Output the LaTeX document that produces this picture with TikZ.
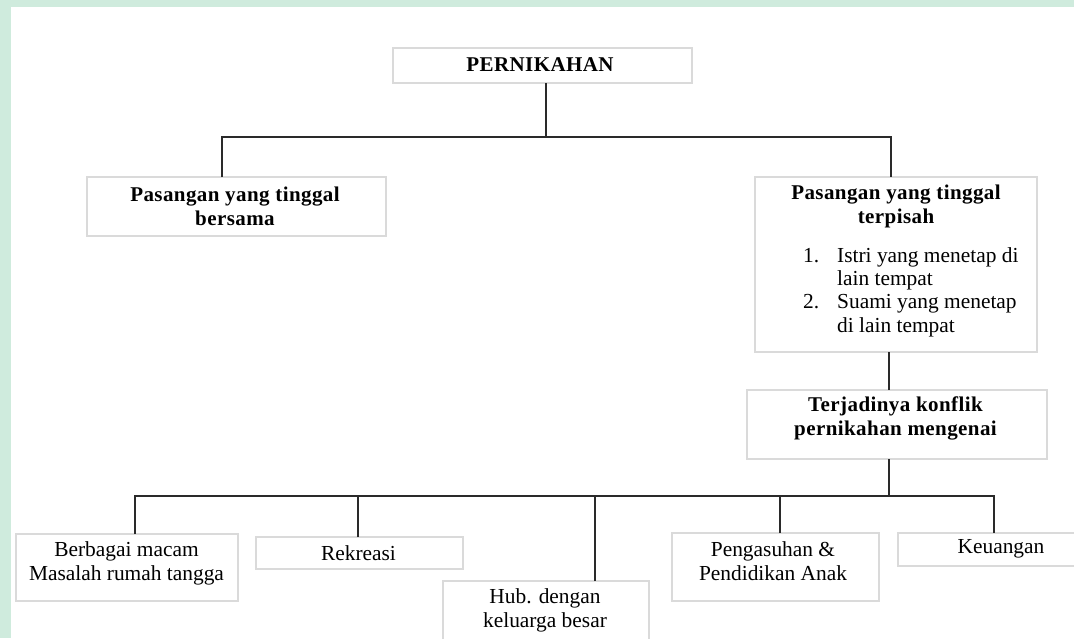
\documentclass[tikz,border=0pt]{standalone}
\usepackage{fontspec}
\setmainfont{Liberation Serif}[BoldFeatures={LetterSpace=2}]
\definecolor{boxgray}{HTML}{DADADA}
\definecolor{linegray}{HTML}{2A2A2A}
\definecolor{wmgreen}{HTML}{CFEBDD}
\begin{document}
\begin{tikzpicture}[x=1pt,y=-1pt,
  box/.style={draw=boxgray, line width=1.4pt, fill=white, inner sep=0pt, outer sep=0pt},
  conn/.style={draw=linegray, line width=1.6pt},
  lbl/.style={font=\fontsize{21.4}{24}\selectfont, align=center, inner sep=0pt},
  blbl/.style={font=\bfseries\fontsize{21}{24}\selectfont, align=center, inner sep=0pt}]
\useasboundingbox (0,0) rectangle (1074,638);
% watermark strips
\fill[wmgreen] (0,0) rectangle (1074,7);
\fill[wmgreen] (0,0) rectangle (11,638);
\fill[white] (11,7) rectangle (1074,638);
% boxes
\node[box, minimum width=299pt, minimum height=35pt] (pern) at (542.5,65.5) {};
\node[box, minimum width=299pt, minimum height=59pt] (bers) at (236.5,206.5) {};
\node[box, minimum width=282pt, minimum height=175pt] (terp) at (896,264.5) {};
\node[box, minimum width=300pt, minimum height=69pt] (konf) at (897,424.5) {};
\node[box, minimum width=222pt, minimum height=67pt] (berb) at (127,567.5) {};
\node[box, minimum width=207pt, minimum height=32pt] (rekr) at (359.5,553) {};
\node[box, minimum width=206pt, minimum height=79pt] (hub) at (546,620.5) {};
\node[box, minimum width=207pt, minimum height=68pt] (peng) at (775.5,567) {};
\node[box, minimum width=180pt, minimum height=33pt] (keu) at (988,549.5) {};
% texts
\node[blbl] (tpern) at (540,65) {PERNIKAHAN};
\node[blbl] (tbers) at (235,206) {Pasangan yang tinggal\\bersama};
\node[blbl] (tterp) at (896,206) {Pasangan yang tinggal\\terpisah};
\node[font=\fontsize{21.4}{23.4}\selectfont, align=left, inner sep=0pt, anchor=west] (tlist) at (803,292)
  {\makebox[34pt][l]{1.}Istri yang menetap di\\\hspace*{34pt}lain tempat\\\makebox[34pt][l]{2.}Suami yang menetap\\\hspace*{34pt}di lain tempat};
\node[blbl] (tkonf) at (895.5,418) {Terjadinya konflik\\pernikahan mengenai};
\node[lbl] (tberb) at (126.5,563) {Berbagai macam\\Masalah rumah tangga};
\node[lbl] (trekr) at (358.5,553) {Rekreasi};
\node[lbl] (thub) at (545,610) {Hub. dengan\\keluarga besar};
\node[lbl] (tpeng) at (773,561) {Pengasuhan \&\\Pendidikan Anak};
\node[lbl] (tkeu) at (1001,549) {Keuangan};
% junction coordinates
\coordinate (j1) at (546,137);
\coordinate (xa) at (222,0);
\coordinate (xb) at (891,0);
\coordinate (xc) at (889,0);
\coordinate (j2) at (889,496);
\coordinate (xd) at (135,0);
\coordinate (xe) at (358,0);
\coordinate (xf) at (595,0);
\coordinate (xg) at (780,0);
\coordinate (xh) at (994,0);
% connectors
\draw[conn] (pern.south -| j1) -- (j1);
\draw[conn] (bers.north -| xa) |- (j1) -| (terp.north -| xb);
\draw[conn] (terp.south -| xc) -- (konf.north -| xc);
\draw[conn] (konf.south -| xc) -- (j2);
\draw[conn] (berb.north -| xd) |- (j2) -| (keu.north -| xh);
\draw[conn] (rekr.north -| xe) -- (j2 -| xe);
\draw[conn] (hub.north -| xf) -- (j2 -| xf);
\draw[conn] (peng.north -| xg) -- (j2 -| xg);
\end{tikzpicture}
\end{document}
